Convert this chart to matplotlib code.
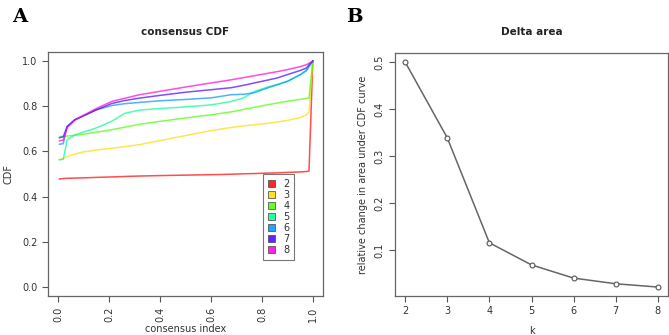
import matplotlib
matplotlib.use("Agg")
import matplotlib.pyplot as plt
from matplotlib.patches import Patch
import numpy as np

# consensus index grid (x positions where the curves were read)
indice = [0.005, 0.02, 0.035, 0.065, 0.1, 0.15, 0.21, 0.26, 0.32, 0.4, 0.5,
          0.6, 0.68, 0.73, 0.77, 0.82, 0.86, 0.9, 0.95, 0.975, 0.985, 1.0]

# CDF for each k
cdf_k2 = [0.478, 0.480, 0.481, 0.482, 0.483, 0.485, 0.487, 0.489, 0.491, 0.493, 0.495,
          0.497, 0.499, 0.501, 0.502, 0.504, 0.505, 0.507, 0.509, 0.511, 0.513, 1.0]
cdf_k3 = [0.563, 0.570, 0.577, 0.588, 0.598, 0.606, 0.614, 0.621, 0.630, 0.648, 0.670,
          0.692, 0.706, 0.713, 0.718, 0.724, 0.730, 0.737, 0.750, 0.762, 0.774, 1.0]
cdf_k4 = [0.666, 0.667, 0.668, 0.671, 0.676, 0.685, 0.696, 0.707, 0.720, 0.733, 0.748,
          0.762, 0.775, 0.786, 0.795, 0.806, 0.814, 0.822, 0.830, 0.835, 0.836, 1.0]
cdf_k5 = [0.563, 0.565, 0.651, 0.673, 0.686, 0.704, 0.733, 0.768, 0.783, 0.790, 0.797,
          0.806, 0.821, 0.838, 0.865, 0.884, 0.896, 0.910, 0.939, 0.961, 0.975, 1.0]
cdf_k6 = [0.632, 0.634, 0.710, 0.740, 0.758, 0.784, 0.803, 0.811, 0.817, 0.824, 0.830,
          0.837, 0.851, 0.853, 0.860, 0.880, 0.895, 0.910, 0.939, 0.957, 0.976, 1.0]
cdf_k7 = [0.660, 0.665, 0.710, 0.740, 0.758, 0.784, 0.812, 0.825, 0.836, 0.848, 0.862,
          0.873, 0.882, 0.893, 0.903, 0.915, 0.925, 0.940, 0.958, 0.969, 0.984, 1.0]
cdf_k8 = [0.647, 0.650, 0.705, 0.738, 0.760, 0.790, 0.821, 0.835, 0.851, 0.866, 0.885,
          0.903, 0.917, 0.927, 0.935, 0.945, 0.953, 0.962, 0.975, 0.984, 0.990, 1.0]

curvas = [cdf_k2, cdf_k3, cdf_k4, cdf_k5, cdf_k6, cdf_k7, cdf_k8]
rotulos = ["2", "3", "4", "5", "6", "7", "8"]
cores = ["#FF0000", "#FFDB00", "#49FF00", "#00FF92", "#0092FF", "#4900FF", "#FF00DB"]

# Delta area
k_vals = [2, 3, 4, 5, 6, 7, 8]
delta_area = [0.500, 0.339, 0.116, 0.069, 0.041, 0.029, 0.022]

plt.rcParams['font.family'] = ['DejaVu Sans']
cinza = "#333333"

fig = plt.figure(figsize=(6.69, 3.35), dpi=100)

# Painel A
ax1 = fig.add_axes([48/669, 39/335, 275/669, 244/335])
for y, c in zip(curvas, cores):
    ax1.plot(indice, y, color=c, lw=1.1, alpha=0.7)
ax1.set_xlim(-0.04, 1.04)
ax1.set_ylim(-0.04, 1.04)
ax1.set_xticks(np.arange(0, 1.01, 0.2))
ax1.set_yticks(np.arange(0, 1.01, 0.2))
ax1.set_xticklabels([f"{v:.1f}" for v in np.arange(0, 1.01, 0.2)], rotation=90)
ax1.set_yticklabels([f"{v:.1f}" for v in np.arange(0, 1.01, 0.2)])
ax1.set_title("consensus CDF", fontsize=7.5, fontweight="bold", pad=12, color="#222222")
ax1.set_xlabel("consensus index", fontsize=7, color=cinza, labelpad=1.5)
ax1.set_ylabel("CDF", fontsize=7, color=cinza, labelpad=6)
handles = [Patch(facecolor=c, edgecolor="#444444", lw=0.6, alpha=0.85) for c in cores]
leg = ax1.legend(handles, rotulos, loc="upper left", bbox_to_anchor=(0.765, 0.52),
                 fontsize=7, frameon=True, fancybox=False, edgecolor="#555555",
                 handlelength=0.75, handleheight=0.75, handletextpad=0.8,
                 labelspacing=0.1, borderpad=0.5, labelcolor=cinza)
leg.get_frame().set_linewidth(0.8)

# Painel B
ax2 = fig.add_axes([395/669, 39/335, 273/669, 243/335])
ax2.plot(k_vals, delta_area, color="#666666", lw=1.1, marker="o", ms=3.5,
         mfc="white", mec="#555555", mew=0.8)
ax2.set_xlim(1.76, 8.24)
ax2.set_ylim(0.003, 0.519)
ax2.set_xticks(k_vals)
ax2.set_yticks([0.1, 0.2, 0.3, 0.4, 0.5])
ax2.set_yticklabels(["0.1", "0.2", "0.3", "0.4", "0.5"], rotation=90, va="center")
ax2.set_title("Delta area", fontsize=7.5, fontweight="bold", pad=13, color="#222222")
ax2.set_xlabel("k", fontsize=7, color=cinza, labelpad=7)
ax2.set_ylabel("relative change in area under CDF curve", fontsize=7, color=cinza, labelpad=5)

for ax in (ax1, ax2):
    for s in ax.spines.values():
        s.set_color("#666666")
        s.set_linewidth(0.9)
    ax.tick_params(labelsize=7, colors="#555555", labelcolor=cinza, length=4, width=0.8)

fig.text(12/669, 1 - 8/335, "A", fontsize=14, fontweight="bold", family="DejaVu Serif",
         va="top", ha="left")
fig.text(346/669, 1 - 8/335, "B", fontsize=14, fontweight="bold", family="DejaVu Serif",
         va="top", ha="left")

fig.savefig("out.png", dpi=100)
